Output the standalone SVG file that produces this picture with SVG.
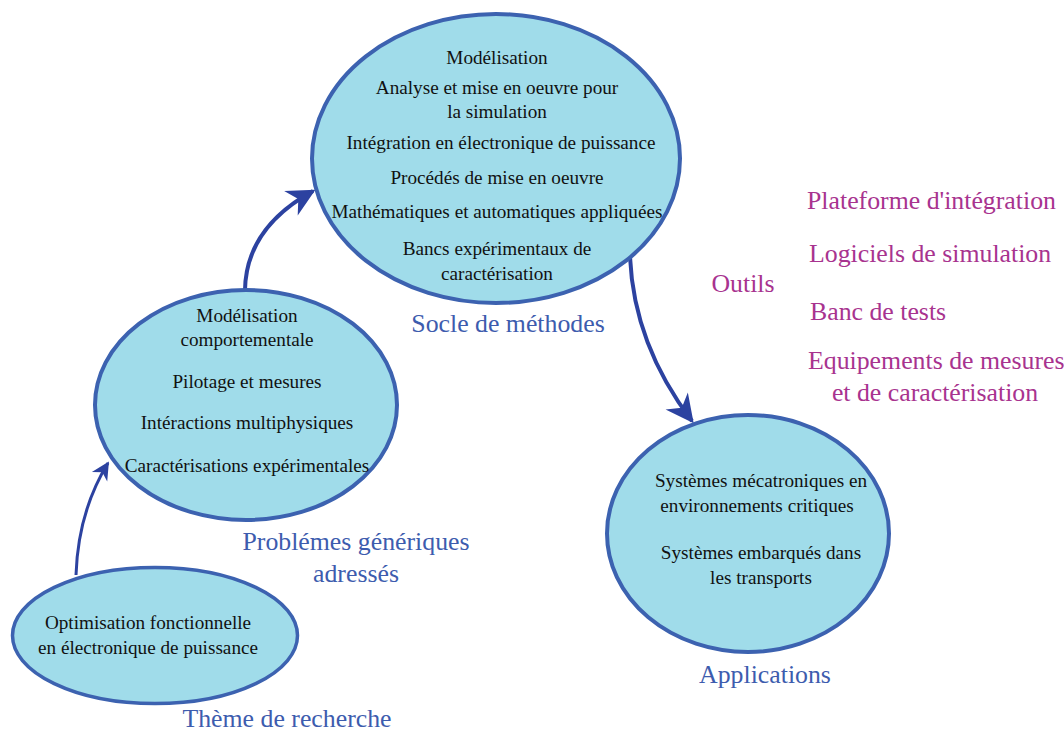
<svg xmlns="http://www.w3.org/2000/svg" width="1064" height="733" viewBox="0 0 1064 733">
<style>
.node{fill:#a0dcea;stroke:#3c62b0;stroke-width:4}
.t{font-family:"Liberation Serif",serif;font-size:19.2px;fill:#111;text-anchor:middle}
.b{font-family:"Liberation Serif",serif;font-size:25.8px;fill:#3d5cae;text-anchor:middle}
.m{font-family:"Liberation Serif",serif;font-size:25.8px;fill:#a8338f}
.c{fill:none;stroke:#2c42a0;stroke-width:4}
</style>
<defs>
<marker id="ahs" viewBox="0 0 10 10" refX="9" refY="5" markerWidth="20" markerHeight="18" markerUnits="userSpaceOnUse" orient="auto" overflow="visible">
<path d="M0,0 L10,5 L0,10 L3,5 Z" fill="#2c42a0"/>
</marker>
<marker id="ahl" viewBox="0 0 10 10" refX="9" refY="5" markerWidth="32" markerHeight="28" markerUnits="userSpaceOnUse" orient="auto" overflow="visible">
<path d="M0,0 L10,5 L0,10 L3,5 Z" fill="#2c42a0"/>
</marker>
</defs>
<rect width="1064" height="733" fill="#fff"/>
<g id="connectors">
<path class="c" style="stroke-width:3" d="M76,575 Q78,512 108,463" marker-end="url(#ahs)"/>
<path class="c" d="M245,290 Q246,228 313,191" marker-end="url(#ahl)"/>
<path class="c" d="M630,257 Q634,345 692,421" marker-end="url(#ahl)"/>
</g>
<g id="socle">
<ellipse class="node" cx="496" cy="158.5" rx="184" ry="144.5"/>
<text class="t" x="497" y="64">Modélisation</text>
<text class="t" x="497" y="94">Analyse et mise en oeuvre pour</text>
<text class="t" x="497" y="118">la simulation</text>
<text class="t" x="501" y="149">Intégration en électronique de puissance</text>
<text class="t" x="497" y="184">Procédés de mise en oeuvre</text>
<text class="t" x="497" y="218">Mathématiques et automatiques appliquées</text>
<text class="t" x="497" y="255">Bancs expérimentaux de</text>
<text class="t" x="497" y="280">caractérisation</text>
</g>
<g id="problemes">
<ellipse class="node" cx="246" cy="405" rx="151" ry="115"/>
<text class="t" x="247" y="322">Modélisation</text>
<text class="t" x="247" y="346">comportementale</text>
<text class="t" x="247" y="388">Pilotage et mesures</text>
<text class="t" x="247" y="429">Intéractions multiphysiques</text>
<text class="t" x="247" y="472">Caractérisations expérimentales</text>
</g>
<g id="theme">
<ellipse class="node" style="stroke-width:3.5" cx="155" cy="635.5" rx="142.5" ry="68"/>
<text class="t" x="148" y="629">Optimisation fonctionnelle</text>
<text class="t" x="148" y="654">en électronique de puissance</text>
</g>
<g id="applications">
<ellipse class="node" cx="748" cy="533.5" rx="141" ry="118.5"/>
<text class="t" x="761" y="487">Systèmes mécatroniques en</text>
<text class="t" x="757" y="512">environnements critiques</text>
<text class="t" x="761" y="559">Systèmes embarqués dans</text>
<text class="t" x="761" y="584">les transports</text>
</g>
<g id="labels">
<text class="b" x="508" y="332">Socle de méthodes</text>
<text class="b" x="356" y="550">Problémes génériques</text>
<text class="b" x="356" y="582">adressés</text>
<text class="b" x="287" y="727">Thème de recherche</text>
<text class="b" x="765" y="683">Applications</text>
</g>
<g id="outils">
<text class="m" x="743" y="292" text-anchor="middle">Outils</text>
<text class="m" x="807" y="209">Plateforme d'intégration</text>
<text class="m" x="809" y="262">Logiciels de simulation</text>
<text class="m" x="810" y="320">Banc de tests</text>
<text class="m" x="808" y="369">Equipements de mesures</text>
<text class="m" x="935" y="401" text-anchor="middle">et de caractérisation</text>
</g>
</svg>
